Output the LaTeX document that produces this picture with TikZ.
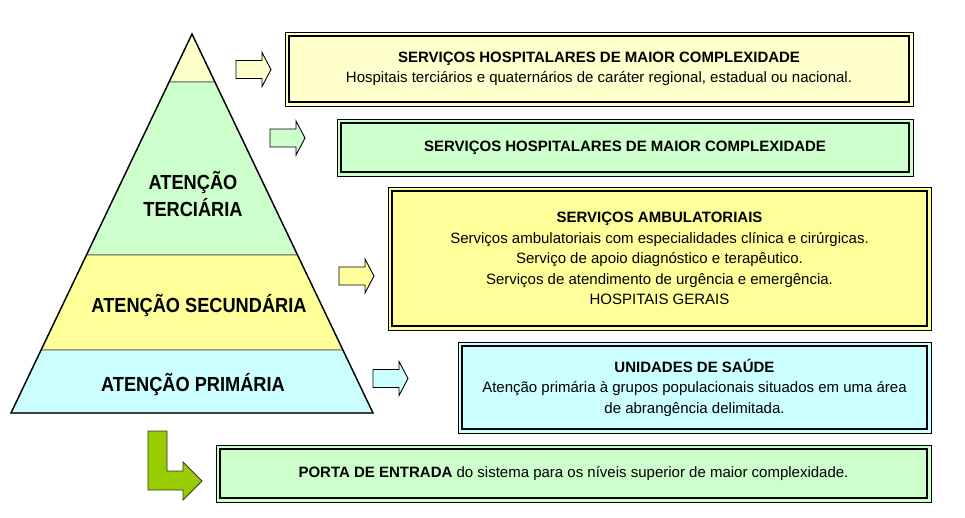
\documentclass[tikz,border=0pt]{standalone}
\usepackage{fontspec}
\usepackage{graphicx}
\setmainfont{Liberation Sans}
\usetikzlibrary{calc}
\definecolor{cYel}{HTML}{FFFFCC}
\definecolor{cGrn}{HTML}{CCFFCC}
\definecolor{cYel2}{HTML}{FFFF99}
\definecolor{cCyan}{HTML}{CCFFFF}
\definecolor{cLime}{HTML}{99CC00}
\tikzset{
  dbox/.style={draw=black, line width=1pt, fill=#1, inner sep=0pt, align=center,
    font=\fontsize{15}{20.5}\selectfont,
    path picture={\draw[line width=2pt] ([shift={(4pt,-4pt)}]path picture bounding box.north west) rectangle ([shift={(-4pt,4pt)}]path picture bounding box.south east);}},
  blockarrow/.pic={\path[pic actions] (0,-9) -- (26,-9) -- (26,-17) -- (35,0) -- (26,17) -- (26,9) -- (0,9) -- cycle;},
  barrow/.style={fill=#1, draw=black, line width=0.9pt, line join=miter},
  band/.style={fill=#1, draw=black!70, line width=0.8pt},
  plabel/.style={font=\fontsize{18.2}{27}\selectfont\bfseries, align=center}
}
\newcommand\tallstack[1]{\scalebox{1}[1.12]{#1}}
\begin{document}
\begin{tikzpicture}[x=1pt,y=-1pt]
\useasboundingbox (0,0) rectangle (965,517);
% pyramid
\coordinate (apex) at (192,34);
\coordinate (bl) at (11,413);
\coordinate (br) at (373,413);
\coordinate (l1) at ($(apex)!0.1266!(bl)$);
\coordinate (r1) at ($(apex)!0.1266!(br)$);
\coordinate (l2) at ($(apex)!0.5831!(bl)$);
\coordinate (r2) at ($(apex)!0.5831!(br)$);
\coordinate (l3) at ($(apex)!0.8338!(bl)$);
\coordinate (r3) at ($(apex)!0.8338!(br)$);
\path[band=cYel] (apex) -- (r1) -- (l1) -- cycle;
\path[band=cGrn] (l1) -- (r1) -- (r2) -- (l2) -- cycle;
\path[band=cYel2] (l2) -- (r2) -- (r3) -- (l3) -- cycle;
\path[band=cCyan] (l3) -- (r3) -- (br) -- (bl) -- cycle;
\draw[black, line width=1.4pt, line join=miter] (apex) -- (br) -- (bl) -- cycle;
\node[plabel] (ter) at (193,194) {\tallstack{ATENÇÃO}\\\tallstack{TERCIÁRIA}};
\node[plabel] (sec) at (199,306) {\tallstack{ATENÇÃO SECUNDÁRIA}};
\node[plabel] (pri) at (193,385) {\tallstack{ATENÇÃO PRIMÁRIA}};
% arrows
\pic[barrow=cYel] (a1) at (236,69.5) {blockarrow};
\pic[barrow=cGrn] (a2) at (270,138) {blockarrow};
\pic[barrow=cYel2] (a3) at (339,276) {blockarrow};
\pic[barrow=cCyan] (a4) at (373,378.5) {blockarrow};
% boxes
\node[dbox=cYel, minimum width=628pt, minimum height=74pt] (b1) at (599,69)
  {\textbf{SERVIÇOS HOSPITALARES DE MAIOR COMPLEXIDADE}\\Hospitais terciários e quaternários de caráter regional, estadual ou nacional.};
\node[dbox=cGrn, minimum width=576pt, minimum height=57pt] (b2) at (625,147.5)
  {\textbf{SERVIÇOS HOSPITALARES DE MAIOR COMPLEXIDADE}};
\node[dbox=cYel2, minimum width=543pt, minimum height=143pt] (b3) at (659.5,258.5)
  {\textbf{SERVIÇOS AMBULATORIAIS}\\Serviços ambulatoriais com especialidades clínica e cirúrgicas.\\Serviço de apoio diagnóstico e terapêutico.\\Serviços de atendimento de urgência e emergência.\\HOSPITAIS GERAIS};
\node[dbox=cCyan, minimum width=473pt, minimum height=91pt] (b4) at (694.5,387.5)
  {\textbf{UNIDADES DE SAÚDE}\\Atenção primária à grupos populacionais situados em uma área\\de abrangência delimitada.};
\node[dbox=cGrn, minimum width=715pt, minimum height=57pt] (b5) at (573.5,473.5)
  {\textbf{PORTA DE ENTRADA} do sistema para os níveis superior de maior complexidade.};
% L arrow
\draw[fill=cLime, draw=black!80, line width=0.8pt, line join=miter]
  (148,431) -- (167,431) -- (167,471) -- (183,471) -- (183,462) -- (202,481)
  -- (183,500) -- (183,490) -- (148,490) -- cycle;
\end{tikzpicture}
\end{document}
